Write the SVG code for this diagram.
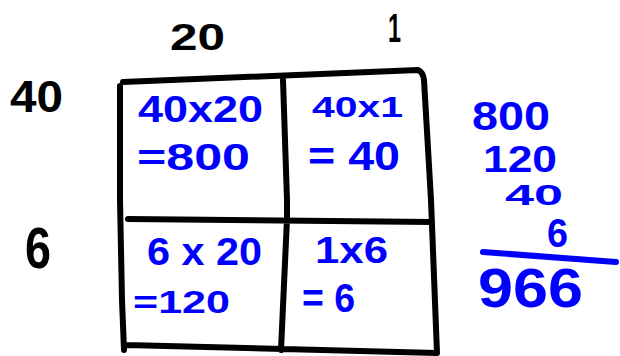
<svg xmlns="http://www.w3.org/2000/svg" width="620" height="356" viewBox="0 0 620 356">
<style>
.ink{fill:none;stroke:#000;stroke-width:6;stroke-linecap:round;stroke-linejoin:round}
.bl{fill:none;stroke:#0000ff;stroke-width:6;stroke-linecap:round}
text{font-family:"Liberation Sans",Arial,sans-serif;font-weight:bold;lengthAdjust:spacingAndGlyphs}
.k{fill:#000}
.b{fill:#0000ff}
</style>
<rect width="620" height="356" fill="#fff"/>
<g id="grid">
<path class="ink" d="M123 82 L418 70 Q423 72 424 80 L431 200 L437 353 M120 86 L120 200 L122 300 L124 350 M126 345 L437 353 M128 219 L432 222 M283 80 L287 200 L287 219 L281 350"/>
</g>
<g id="headers">
<text class="k" x="170" y="50" font-size="37" textLength="55" lengthAdjust="spacingAndGlyphs">20</text>
<text class="k" x="388" y="42" font-size="40" textLength="13" lengthAdjust="spacingAndGlyphs">1</text>
<text class="k" x="10" y="112" font-size="44" textLength="53" lengthAdjust="spacingAndGlyphs">40</text>
<text class="k" x="25" y="268" font-size="58" textLength="26" lengthAdjust="spacingAndGlyphs">6</text>
</g>
<g id="cell-40x20">
<text class="b" x="138" y="122" font-size="36" textLength="125" lengthAdjust="spacingAndGlyphs">40x20</text>
<text class="b" x="137" y="170" font-size="37" textLength="113" lengthAdjust="spacingAndGlyphs">=800</text>
</g>
<g id="cell-40x1">
<text class="b" x="312" y="117" font-size="29" textLength="91" lengthAdjust="spacingAndGlyphs">40x1</text>
<text class="b" x="308" y="170" font-size="40" textLength="92" lengthAdjust="spacingAndGlyphs">= 40</text>
</g>
<g id="cell-6x20">
<text class="b" x="147" y="265" font-size="38" textLength="115" lengthAdjust="spacingAndGlyphs">6 x 20</text>
<text class="b" x="133" y="313" font-size="32" textLength="97" lengthAdjust="spacingAndGlyphs">=120</text>
</g>
<g id="cell-1x6">
<text class="b" x="315" y="263" font-size="36" textLength="73" lengthAdjust="spacingAndGlyphs">1x6</text>
<text class="b" x="302" y="312" font-size="40" textLength="53" lengthAdjust="spacingAndGlyphs">= 6</text>
</g>
<g id="sum">
<text class="b" x="472" y="130" font-size="41" textLength="78" lengthAdjust="spacingAndGlyphs">800</text>
<text class="b" x="483" y="172" font-size="37" textLength="74" lengthAdjust="spacingAndGlyphs">120</text>
<text class="b" x="505" y="205" font-size="30" textLength="58" lengthAdjust="spacingAndGlyphs">40</text>
<text class="b" x="547" y="247" font-size="40" textLength="21" lengthAdjust="spacingAndGlyphs">6</text>
<path class="bl" d="M483 252 L616 262"/>
<text class="b" x="478" y="307" font-size="55" textLength="105" lengthAdjust="spacingAndGlyphs">966</text>
</g>
</svg>
